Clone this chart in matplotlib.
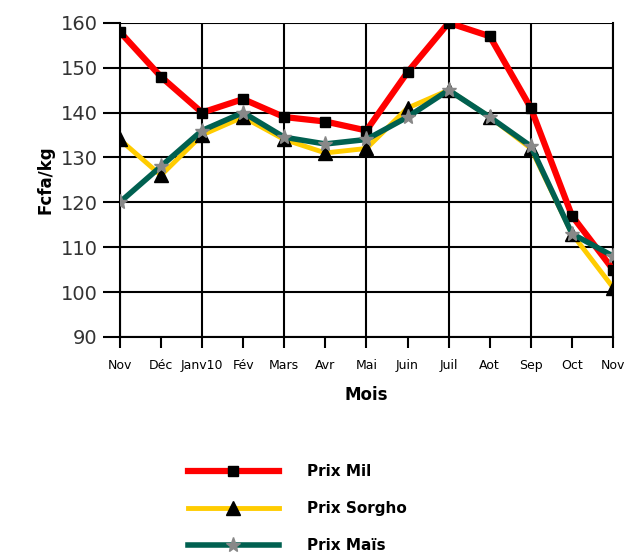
import matplotlib.pyplot as plt
from matplotlib.ticker import MultipleLocator

# mois et prix (Fcfa/kg)
mois = ["Nov", "Déc", "Janv10", "Fév", "Mars", "Avr", "Mai", "Juin", "Juil", "Aot", "Sep", "Oct", "Nov"]
prix_mil = [158, 148, 140, 143, 139, 138, 136, 149, 160, 157, 141, 117, 105]
prix_sorgho = [134, 126, 135, 139, 134, 131, 132, 141, 145, 139, 132, 113, 101]
prix_mais = [120, 128, 136, 140, 134.5, 133, 134, 139, 145, 139, 132.5, 113, 108]

fig = plt.figure(figsize=(6.44, 5.56), dpi=100)
ax = fig.add_axes([0.186, 0.394, 0.766, 0.565])

x = list(range(len(mois)))
ax.plot(x, prix_mil, color="#ff0000", lw=4.5, marker="s", ms=6.5, mfc="black", mec="black", label="Prix Mil", zorder=3)
ax.plot(x, prix_sorgho, color="#ffcc00", lw=3.5, marker="^", ms=9.5, mfc="black", mec="black", label="Prix Sorgho", zorder=4)
ax.plot(x, prix_mais, color="#006050", lw=4, marker="*", ms=11, mfc="#888888", mec="#888888", label="Prix Maïs", zorder=5)

ax.set_xlim(0, len(mois) - 1)
ax.set_ylim(90, 160)
ax.yaxis.set_major_locator(MultipleLocator(10))
ax.set_xticks(x)
ax.set_xticklabels(mois, fontsize=9)
for lab in ax.get_yticklabels():
    lab.set_fontsize(14)
    lab.set_color("#333333")

# grille verticale un mois sur deux
for xi in x[::2]:
    ax.axvline(xi, color="black", lw=1.5, zorder=1)
ax.grid(axis="y", color="black", lw=1.5, zorder=1)
ax.tick_params(axis="y", length=12, width=1.5, pad=4)
ax.tick_params(axis="x", length=8, width=1.5, pad=8)
for s in ax.spines.values():
    s.set_linewidth(1.5)
ax.spines["top"].set_visible(False)

ax.set_xlabel("Mois", fontsize=12, fontweight="bold", labelpad=10)
ax.set_ylabel("Fcfa/kg", fontsize=12, fontweight="bold", labelpad=4)

fig.legend(loc="upper left", bbox_to_anchor=(0.27, 0.19), frameon=False,
           handlelength=6, labelspacing=1.45, handletextpad=1.8,
           prop={"size": 11, "weight": "bold"})

plt.savefig("out.png", dpi=100)
